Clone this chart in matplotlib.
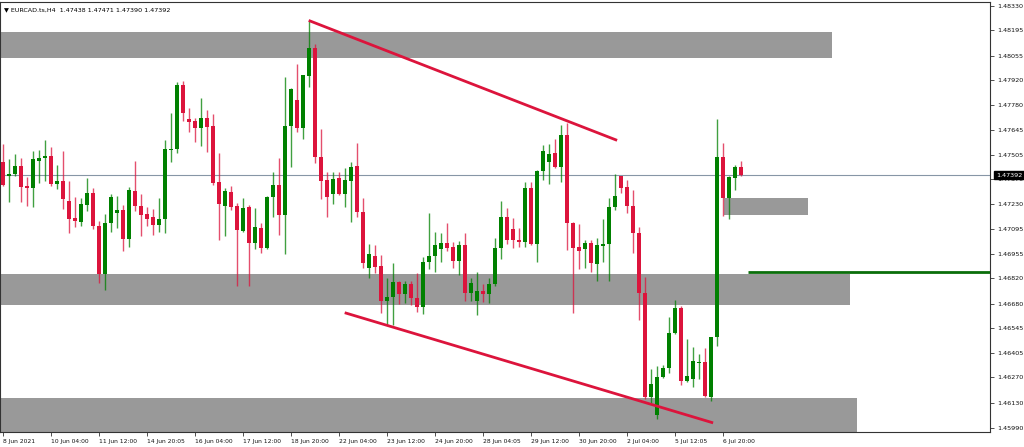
import numpy as np
import matplotlib
matplotlib.use('Agg')
import matplotlib.pyplot as plt
import matplotlib.transforms as mtransforms

# EURCAD H4 candles (open, high, low, close), one row per bar
opens = [1.47467, 1.47389, 1.47397, 1.47445, 1.47332, 1.47323, 1.47472, 1.47489, 1.47498, 1.47343,
         1.47361, 1.47249, 1.47154, 1.47131, 1.47227, 1.47291, 1.47112, 1.46846, 1.47125, 1.47180,
         1.47199, 1.47038, 1.47304, 1.47221, 1.47177, 1.47160, 1.47114, 1.47149, 1.47530, 1.47535,
         1.47894, 1.47703, 1.47692, 1.47652, 1.47711, 1.47666, 1.47353, 1.47221, 1.47301, 1.47223,
         1.47082, 1.47214, 1.47018, 1.47101, 1.46990, 1.47273, 1.47338, 1.47171, 1.47666, 1.47809,
         1.47652, 1.47944, 1.48095, 1.47495, 1.47365, 1.47286, 1.47374, 1.47288, 1.47362, 1.47443,
         1.47190, 1.46876, 1.46945, 1.46888, 1.46696, 1.46714, 1.46798, 1.46733, 1.46788, 1.46709,
         1.46663, 1.46908, 1.46945, 1.46984, 1.47017, 1.46995, 1.46918, 1.47005, 1.46740, 1.46696,
         1.46751, 1.46731, 1.46786, 1.46990, 1.47158, 1.47091, 1.47032, 1.47023, 1.47319, 1.47008,
         1.47415, 1.47463, 1.47513, 1.47435, 1.47614, 1.47128, 1.46995, 1.46982, 1.47017, 1.46899,
         1.47001, 1.47008, 1.47213, 1.47387, 1.47324, 1.47223, 1.47073, 1.46737, 1.46160, 1.46062,
         1.46275, 1.46324, 1.46515, 1.46657, 1.46252, 1.46260, 1.46349, 1.46354, 1.46164, 1.46493,
         1.47494, 1.47263, 1.47378, 1.47438]
highs = [1.47565, 1.47480, 1.47507, 1.47485, 1.47384, 1.47526, 1.47531, 1.47587, 1.47550, 1.47448,
         1.47526, 1.47360, 1.47273, 1.47264, 1.47378, 1.47319, 1.47138, 1.47175, 1.47288, 1.47278,
         1.47227, 1.47328, 1.47470, 1.47288, 1.47217, 1.47203, 1.47267, 1.47587, 1.47735, 1.47910,
         1.47914, 1.47762, 1.47707, 1.47818, 1.47753, 1.47733, 1.47517, 1.47323, 1.47332, 1.47236,
         1.47267, 1.47227, 1.47208, 1.47125, 1.47276, 1.47411, 1.47489, 1.47938, 1.47875, 1.48006,
         1.47950, 1.48247, 1.48117, 1.47646, 1.47411, 1.47411, 1.47411, 1.47430, 1.47467, 1.47569,
         1.47267, 1.47009, 1.47005, 1.46949, 1.46820, 1.46903, 1.46805, 1.46805, 1.46805, 1.46847,
         1.46940, 1.47180, 1.47078, 1.47073, 1.47128, 1.47023, 1.47029, 1.47073, 1.46820, 1.46857,
         1.46788, 1.46820, 1.47042, 1.47248, 1.47208, 1.47156, 1.47097, 1.47356, 1.47352, 1.47418,
         1.47559, 1.47564, 1.47590, 1.47670, 1.47679, 1.47134, 1.47119, 1.47032, 1.47032, 1.47042,
         1.47147, 1.47263, 1.47398, 1.47390, 1.47365, 1.47309, 1.47102, 1.46829, 1.46315, 1.46334,
         1.46339, 1.46604, 1.46700, 1.46666, 1.46482, 1.46437, 1.46400, 1.46432, 1.46495, 1.47701,
         1.47568, 1.47385, 1.47448, 1.47471]
lows = [1.47330, 1.47245, 1.47387, 1.47245, 1.47221, 1.47217, 1.47350, 1.47360, 1.47332, 1.47315,
        1.47203, 1.47070, 1.47106, 1.47110, 1.47195, 1.47092, 1.46792, 1.46755, 1.47079, 1.47101,
        1.46972, 1.46992, 1.47195, 1.47055, 1.47110, 1.47058, 1.47079, 1.47073, 1.47463, 1.47517,
        1.47692, 1.47633, 1.47578, 1.47556, 1.47522, 1.47340, 1.47033, 1.47055, 1.47199, 1.46779,
        1.47075, 1.46779, 1.46981, 1.46959, 1.46985, 1.47158, 1.47060, 1.46953, 1.47439, 1.47630,
        1.47593, 1.47883, 1.47458, 1.47258, 1.47158, 1.47230, 1.47282, 1.47217, 1.47134, 1.47162,
        1.46876, 1.46820, 1.46847, 1.46629, 1.46561, 1.46561, 1.46678, 1.46685, 1.46672, 1.46635,
        1.46622, 1.46870, 1.46853, 1.46912, 1.46973, 1.46879, 1.46838, 1.46696, 1.46696, 1.46616,
        1.46690, 1.46681, 1.46777, 1.46925, 1.47010, 1.46986, 1.46992, 1.46995, 1.47005, 1.46908,
        1.47365, 1.47343, 1.47430, 1.47356, 1.46977, 1.46626, 1.46870, 1.46875, 1.46857, 1.46805,
        1.46912, 1.46805, 1.47199, 1.47291, 1.47180, 1.46962, 1.46589, 1.46149, 1.46127, 1.46040,
        1.46269, 1.46293, 1.46510, 1.46228, 1.46247, 1.46219, 1.46260, 1.46160, 1.46142, 1.46445,
        1.47165, 1.47147, 1.47309, 1.47390]
closes = [1.47337, 1.47398, 1.47445, 1.47328, 1.47323, 1.47480, 1.47487, 1.47498, 1.47341, 1.47361,
          1.47260, 1.47151, 1.47140, 1.47230, 1.47291, 1.47110, 1.46842, 1.47125, 1.47273, 1.47199,
          1.47036, 1.47310, 1.47221, 1.47171, 1.47147, 1.47114, 1.47149, 1.47537, 1.47537, 1.47894,
          1.47735, 1.47689, 1.47652, 1.47711, 1.47661, 1.47347, 1.47230, 1.47304, 1.47217, 1.47088,
          1.47212, 1.47018, 1.47105, 1.46990, 1.47273, 1.47338, 1.47171, 1.47666, 1.47870, 1.47652,
          1.47947, 1.48095, 1.47495, 1.47362, 1.47273, 1.47371, 1.47288, 1.47363, 1.47439, 1.47190,
          1.46903, 1.46953, 1.46884, 1.46696, 1.46714, 1.46798, 1.46731, 1.46788, 1.46709, 1.46663,
          1.46908, 1.46944, 1.47005, 1.47017, 1.46990, 1.46918, 1.47005, 1.46737, 1.46792, 1.46751,
          1.46731, 1.46788, 1.46986, 1.47162, 1.47032, 1.47032, 1.47023, 1.47319, 1.47008, 1.47415,
          1.47528, 1.47509, 1.47435, 1.47614, 1.47125, 1.46990, 1.46973, 1.47017, 1.46907, 1.47005,
          1.47008, 1.47213, 1.47276, 1.47322, 1.47223, 1.47073, 1.46737, 1.46160, 1.46234, 1.46275,
          1.46324, 1.46515, 1.46657, 1.46252, 1.46280, 1.46361, 1.46354, 1.46167, 1.46493, 1.47491,
          1.47263, 1.47383, 1.47435, 1.47392]

date_ticks = [0, 8, 16, 24, 32, 40, 48, 56, 64, 72, 80, 88, 96, 104, 112, 120]
date_labels = ["8 Jun 2021", "10 Jun 04:00", "11 Jun 12:00", "14 Jun 20:05", "16 Jun 04:00",
               "17 Jun 12:00", "18 Jun 20:00", "22 Jun 04:00", "23 Jun 12:00", "24 Jun 20:00",
               "28 Jun 04:05", "29 Jun 12:00", "30 Jun 20:00", "2 Jul 04:00", "5 Jul 12:05",
               "6 Jul 20:00"]
price_ticks = [1.48330, 1.48195, 1.48055, 1.47920, 1.47780, 1.47645, 1.47505, 1.47370, 1.47230,
               1.47095, 1.46955, 1.46820, 1.46680, 1.46545, 1.46405, 1.46270, 1.46130, 1.45990]

# supply / demand zones
zone_top = [1.48186, 1.46842, 1.47267, 1.46154]
zone_bottom = [1.48042, 1.46672, 1.47171, 1.45900]
zone_start = [-1, -1, 120.2, -1]
zone_end = [138.2, 141.2, 134.2, 142.4]

# trend lines (bar, price)
upper_line_x = [51.0, 102.4]
upper_line_y = [1.48250, 1.47585]
lower_line_x = [57.0, 118.4]
lower_line_y = [1.46629, 1.46018]

green_level = 1.46853
green_start = 124.2
last_price = 1.47392

UP = '#008000'
DOWN = '#dc143c'

fig = plt.figure(figsize=(10.24, 4.47), dpi=100)
ax = fig.add_axes([0, 15.3 / 447, 990 / 1024, 430 / 447])

o = np.array(opens)
h = np.array(highs)
l = np.array(lows)
c = np.array(closes)
x = np.arange(len(o))
up = c >= o
colors = np.where(up, UP, DOWN)

for top, bot, x0, x1 in zip(zone_top, zone_bottom, zone_start, zone_end):
    ax.fill_between([x0, x1], bot, top, color='#999999', lw=0, zorder=1)

ax.axhline(last_price, color='#8796a6', lw=0.8, zorder=2)

ax.vlines(x, l, h, colors=colors, lw=1.0, alpha=0.75, zorder=3)
body_low = np.minimum(o, c)
body_h = np.maximum(np.abs(c - o), 0.00004)
ax.bar(x, body_h, bottom=body_low, width=0.62, color=colors, lw=0, zorder=4)

ax.plot(upper_line_x, upper_line_y, color=DOWN, lw=2, solid_capstyle='butt', zorder=5)
ax.plot(lower_line_x, lower_line_y, color=DOWN, lw=2, solid_capstyle='butt', zorder=5)
ax.hlines(green_level, green_start, 200, color='#0a6e0a', lw=2, zorder=5)

ax.set_xlim(-0.45, 164.55)
ax.set_ylim(1.45969, 1.48354)

ax.yaxis.tick_right()
ax.set_yticks(price_ticks)
ax.set_yticklabels([f"{p:.5f}" for p in price_ticks])
ax.set_xticks(date_ticks)
ax.set_xticklabels(date_labels, ha='left')
ax.tick_params(axis='both', direction='out', length=3, width=0.6, color='#333333',
               labelsize=4.6, pad=2, labelcolor='#111111')
ax.tick_params(axis='x', labelsize=4.3)

for s in ax.spines.values():
    s.set_color('#333333')
    s.set_linewidth(0.8)

ax.text(0.004, 0.988, "\u25bc EURCAD.ts,H4  1.47438 1.47471 1.47390 1.47392",
        transform=ax.transAxes, fontsize=4.6, va='top', ha='left')

trans = mtransforms.blended_transform_factory(ax.transAxes, ax.transData)
ax.text(1.006, last_price, f"{last_price:.5f}", transform=trans, fontsize=4.6,
        color='white', va='center', ha='left', zorder=10, clip_on=False,
        bbox=dict(boxstyle='square,pad=0.25', fc='black', ec='black'))

fig.savefig('out.png', dpi=100, facecolor='white')
